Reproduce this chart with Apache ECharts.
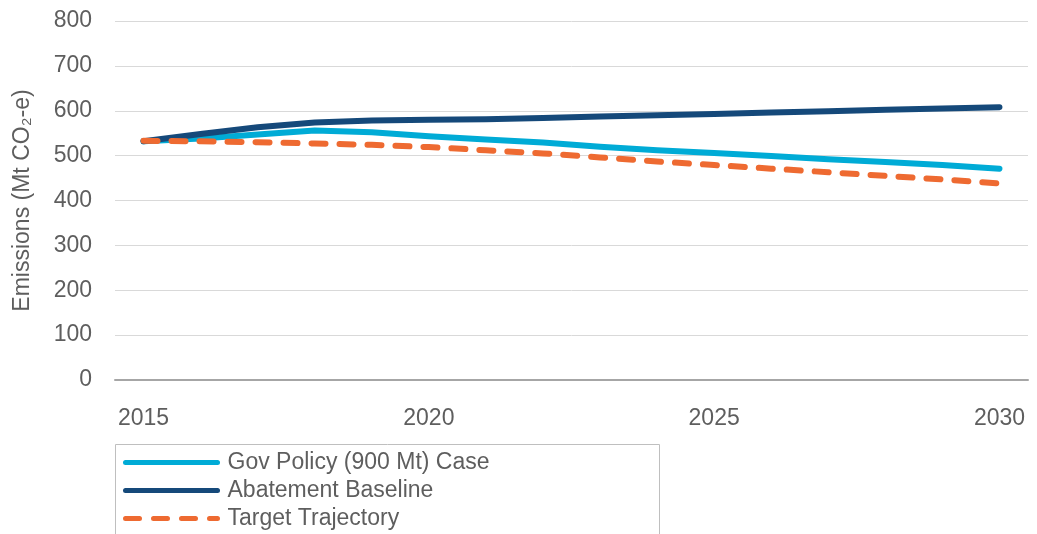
<!DOCTYPE html>
<html>
<head>
    <meta charset="utf-8">
    <title>Emissions</title>
    <script src="https://cdn.jsdelivr.net/npm/echarts@6/dist/echarts.min.js"></script>
    <style>
        html, body { margin: 0; padding: 0; background: #fff; }
        #chart { width: 1037px; height: 534px; }
    </style>
</head>
<body>
<div id="chart"></div>
<script>
    // years on the x axis
    var years = ['2015', '2016', '2017', '2018', '2019', '2020', '2021', '2022',
        '2023', '2024', '2025', '2026', '2027', '2028', '2029', '2030'];

    // values (Mt CO2-e)
    var govPolicy = [532, 538, 547, 556, 552, 543, 536, 529, 520, 512, 506, 499, 492, 486, 479, 471];
    var baseline = [532, 548, 563, 574, 578, 580, 581, 584, 587, 590, 593, 596, 599, 602, 605, 608];
    var target = [533, 532, 530, 527, 524, 519, 512, 505, 496, 487, 479, 471, 463, 455, 447, 438];

    var textColor = '#5e5e5e';
    var font = 'Liberation Sans';

    var chart = echarts.init(document.getElementById('chart'));

    var option = {
        animation: false,
        textStyle: { fontFamily: font },
        grid: { left: 115, right: 9, top: 21, bottom: 154 },
        legend: {
            orient: 'vertical',
            left: 113,
            top: 451,
            padding: [0, 10],
            itemGap: 5,
            itemWidth: 92,
            itemHeight: 14,
            itemStyle: { opacity: 0 },
            lineStyle: { width: 5, cap: 'round' },
            textStyle: { fontSize: 23, color: textColor, fontFamily: font, padding: [0, 0, 0, 5] },
            data: ['Gov Policy (900 Mt) Case', 'Abatement Baseline', 'Target Trajectory']
        },
        graphic: [{
            type: 'rect',
            left: 113,
            top: 442,
            shape: { width: 544, height: 120 },
            style: { fill: 'none', stroke: '#bfbfbf', lineWidth: 1 },
            silent: true
        }],
        xAxis: {
            type: 'category',
            data: years,
            boundaryGap: true,
            axisLine: { lineStyle: { color: '#a6a6a6', width: 2 } },
            axisTick: { show: false },
            axisLabel: {
                interval: 4,
                margin: 27,
                fontSize: 23,
                color: textColor,
                fontFamily: font
            }
        },
        yAxis: {
            type: 'value',
            min: 0,
            max: 800,
            interval: 100,
            name: 'Emissions (Mt CO\u2082-e)',
            nameLocation: 'middle',
            nameGap: 81,
            nameTextStyle: { fontSize: 23, color: textColor, fontFamily: font },
            axisLine: { show: false },
            axisTick: { show: false },
            axisLabel: { margin: 23, fontSize: 23, color: textColor, fontFamily: font },
            splitLine: { lineStyle: { color: '#d9d9d9', width: 1 } }
        },
        series: [
            {
                name: 'Gov Policy (900 Mt) Case',
                type: 'line',
                symbol: 'none',
                data: govPolicy,
                z: 3,
                itemStyle: { color: '#00abd6' },
                lineStyle: { color: '#00abd6', width: 6, cap: 'round', join: 'round' }
            },
            {
                name: 'Abatement Baseline',
                type: 'line',
                symbol: 'none',
                data: baseline,
                z: 4,
                itemStyle: { color: '#15497a' },
                lineStyle: { color: '#15497a', width: 6, cap: 'round', join: 'round' }
            },
            {
                name: 'Target Trajectory',
                type: 'line',
                symbol: 'none',
                data: target,
                z: 5,
                itemStyle: { color: '#ee6a31' },
                lineStyle: { color: '#ee6a31', width: 6, type: [14, 14], cap: 'round', join: 'round' }
            }
        ]
    };

    chart.setOption(option);
</script>
</body>
</html>
